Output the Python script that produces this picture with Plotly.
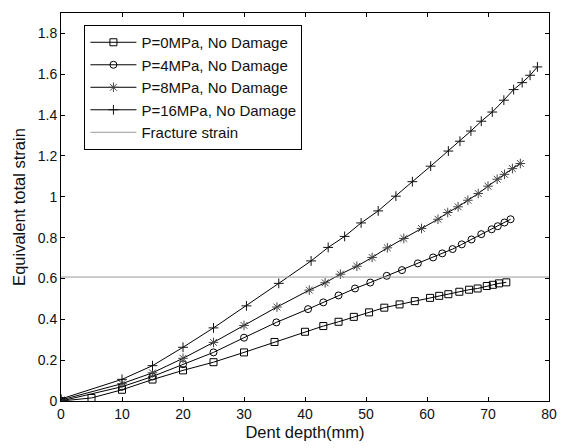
import plotly.graph_objects as go

# Dent depth (mm) and equivalent total strain for each internal pressure
depth_p0 = [0, 5, 10, 15, 20, 25, 30, 35, 40, 43, 45.5, 48, 50.5, 53, 55.5, 58,
            60.5, 62, 63.5, 65.3, 66.9, 68.3, 69.8, 70.8, 71.8, 73]
strain_p0 = [0, 0.015, 0.055, 0.105, 0.15, 0.19, 0.238, 0.289, 0.339, 0.367, 0.388,
             0.412, 0.434, 0.457, 0.473, 0.489, 0.505, 0.515, 0.523, 0.535, 0.545,
             0.551, 0.563, 0.569, 0.576, 0.581]

depth_p4 = [0, 10, 15, 20, 25, 30, 35.3, 40.5, 43, 45.5, 48.2, 50.7, 53.4, 55.9, 58.5,
            61, 62.5, 64.2, 65.7, 67.3, 68.9, 70.6, 71.6, 72.7, 73.7]
strain_p4 = [0, 0.07, 0.12, 0.18, 0.238, 0.31, 0.385, 0.45, 0.483, 0.517, 0.551, 0.58,
             0.613, 0.641, 0.674, 0.703, 0.723, 0.744, 0.767, 0.791, 0.817, 0.841,
             0.856, 0.874, 0.89]

depth_p8 = [0, 10, 15, 20, 25, 30, 35.4, 40.7, 43.3, 45.8, 48.5, 51, 53.5, 56.2, 59.1,
            61.8, 63.4, 65.1, 66.7, 68.4, 70, 71.5, 72.7, 74, 75.3]
strain_p8 = [0.005, 0.085, 0.138, 0.209, 0.287, 0.37, 0.46, 0.543, 0.579, 0.621, 0.66,
             0.703, 0.75, 0.796, 0.845, 0.89, 0.923, 0.951, 0.983, 1.016, 1.052, 1.086,
             1.11, 1.138, 1.163]

depth_p16 = [0, 10, 15, 20, 25, 30.4, 35.7, 41, 43.8, 46.5, 49.2, 52, 54.9, 57.6, 60.6,
             63.5, 65.4, 67.2, 68.9, 70.7, 72.6, 74.2, 75.6, 76.9, 78.1]
strain_p16 = [0.01, 0.106, 0.173, 0.263, 0.358, 0.466, 0.576, 0.686, 0.752, 0.806,
              0.872, 0.931, 1.003, 1.074, 1.15, 1.224, 1.272, 1.322, 1.37, 1.415,
              1.473, 1.525, 1.559, 1.595, 1.636]

fracture_strain = 0.607
x_limits = [0, 80]
y_limits = [0, 1.9]

series = [
    ("P=0MPa, No Damage", depth_p0, strain_p0, "square-open", 7, "#000000"),
    ("P=4MPa, No Damage", depth_p4, strain_p4, "circle-open", 7, "#000000"),
    ("P=8MPa, No Damage", depth_p8, strain_p8, "asterisk-open", 8, "#444444"),
    ("P=16MPa, No Damage", depth_p16, strain_p16, "cross-thin-open", 7, "#111111"),
]

FONT = "Liberation Sans, Arial"

fig = go.Figure()
for name, xs, ys, symbol, size, mcolor in series:
    fig.add_trace(go.Scatter(
        x=xs, y=ys, name=name, mode="lines+markers",
        line=dict(color="black", width=1),
        marker=dict(symbol=symbol, size=size, color=mcolor,
                    line=dict(color=mcolor, width=1)),
    ))

fig.add_trace(go.Scatter(
    x=x_limits, y=[fracture_strain, fracture_strain], name="Fracture strain",
    mode="lines", line=dict(color="#9a9a9a", width=1),
))

axis_common = dict(
    showline=True, linecolor="black", linewidth=1, mirror="allticks",
    ticks="inside", ticklen=4, tickcolor="black", showgrid=False, zeroline=False,
    tickfont=dict(family=FONT, size=14, color="#111111"),
)

fig.update_layout(
    width=567, height=448,
    margin=dict(l=61, r=10, t=13, b=47),
    paper_bgcolor="white", plot_bgcolor="white",
    font=dict(family=FONT, size=14, color="#111111"),
    xaxis=dict(range=x_limits, dtick=10, **axis_common,
               title=dict(text="Dent depth(mm)", standoff=5,
                          font=dict(size=16.5))),
    yaxis=dict(range=y_limits, dtick=0.2, **axis_common,
               title=dict(text="Equivalent total strain", standoff=7,
                          font=dict(size=16.5))),
    legend=dict(x=0.048, y=0.969, xanchor="left", yanchor="top",
                bgcolor="white", bordercolor="black", borderwidth=1,
                font=dict(size=15), tracegroupgap=0, itemwidth=46),
    showlegend=True,
)

fig.write_html("out.html")
